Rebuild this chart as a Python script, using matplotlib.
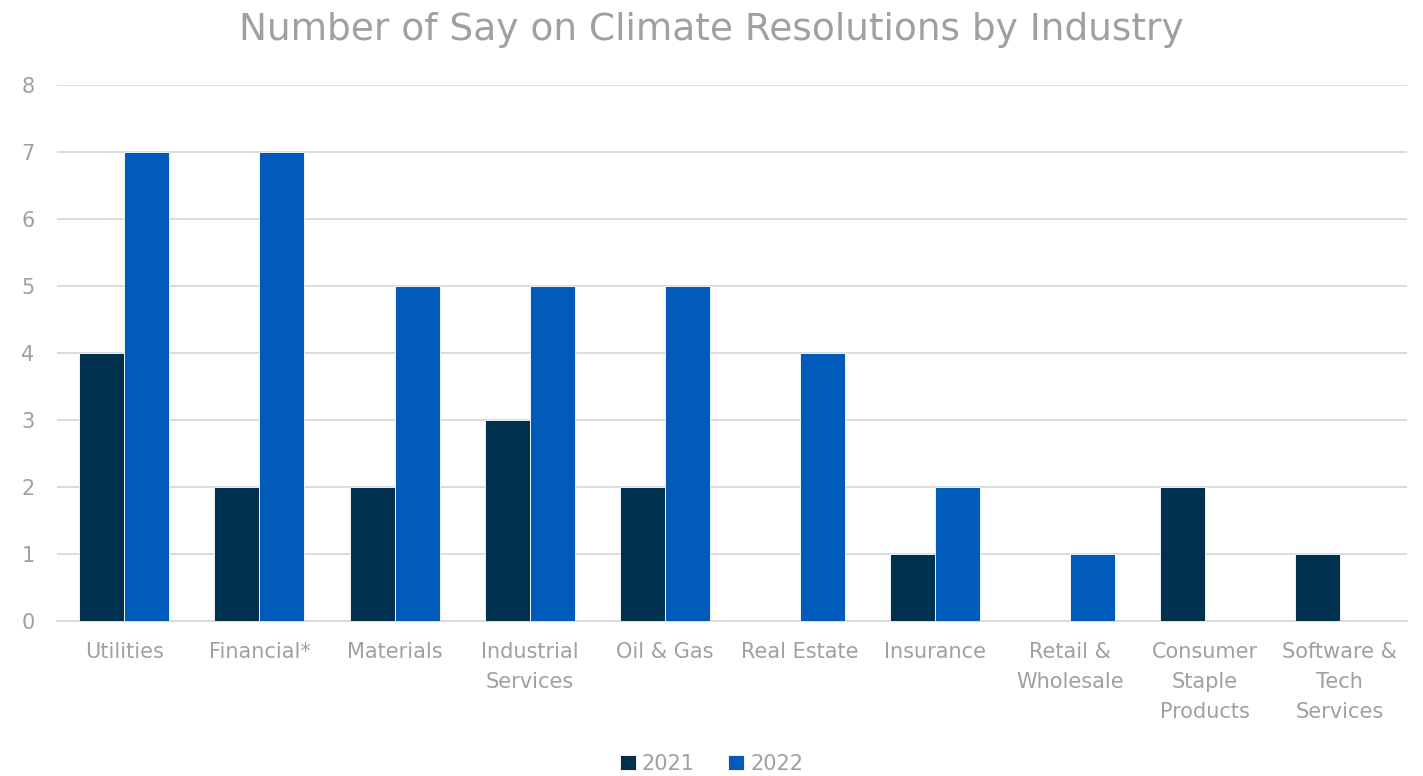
import numpy as np
import matplotlib.pyplot as plt

plt.rcParams["font.family"] = "DejaVu Sans"

categories = ["Utilities", "Financial*", "Materials", "Industrial\nServices", "Oil & Gas",
              "Real Estate", "Insurance", "Retail &\nWholesale", "Consumer\nStaple\nProducts",
              "Software &\nTech\nServices"]
values_2021 = [4, 2, 2, 3, 2, 0, 1, 0, 2, 1]
values_2022 = [7, 7, 5, 5, 5, 4, 2, 1, 0, 0]
years = ["2021", "2022"]
yticks = [0, 1, 2, 3, 4, 5, 6, 7, 8]

c21 = "#00324F"
c22 = "#005BBB"
text_c = "#A0A0A0"
grid_c = "#D9D9D9"


def main():
    fig = plt.figure(figsize=(14.23, 7.76), dpi=100)
    ax = fig.add_axes([0.040, 0.200, 0.949, 0.6905])

    x = np.arange(len(categories))
    w = 1 / 3
    ax.bar(x - w / 2, values_2021, w, color=c21, edgecolor="white", linewidth=0.6,
           label=years[0], zorder=3)
    ax.bar(x + w / 2, values_2022, w, color=c22, edgecolor="white", linewidth=0.6,
           label=years[1], zorder=3)

    ax.set_xlim(-0.5, len(categories) - 0.5)
    ax.set_ylim(0, 8)
    ax.set_yticks(yticks)
    ax.set_xticks(x)
    ax.set_xticklabels(categories, linespacing=1.6)
    ax.tick_params(axis="both", length=0, labelsize=15, labelcolor=text_c)
    ax.tick_params(axis="y", pad=16)
    ax.tick_params(axis="x", pad=15.5)
    ax.yaxis.grid(True, color=grid_c, linewidth=1.3, zorder=0)
    for s in ["top", "right", "left"]:
        ax.spines[s].set_visible(False)
    ax.spines["bottom"].set_color(grid_c)
    ax.spines["bottom"].set_linewidth(1.3)

    fig.suptitle("Number of Say on Climate Resolutions by Industry", color=text_c,
                 fontsize=27, y=0.985, va="top")

    fig.legend(loc="lower center", bbox_to_anchor=(0.5, -0.021), ncol=2, frameon=False,
               fontsize=15, labelcolor=text_c, handlelength=0.75, handleheight=0.75,
               handletextpad=0.3, columnspacing=1.6)

    fig.savefig("out.png", dpi=100)
    plt.close(fig)


if __name__ == "__main__":
    main()
